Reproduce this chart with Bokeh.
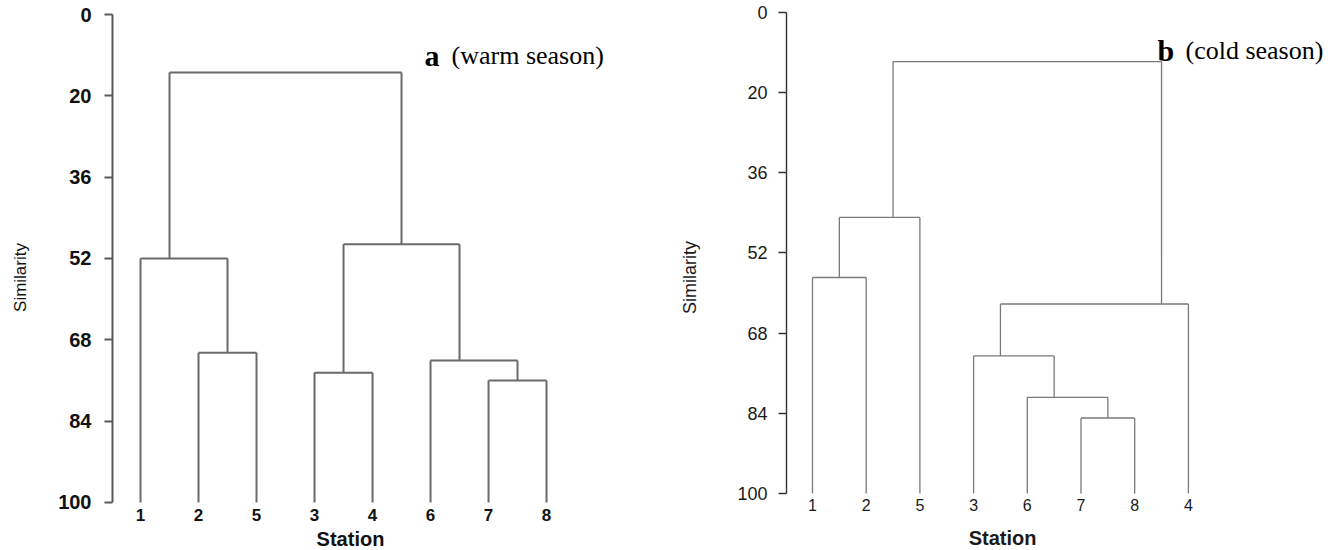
import numpy as np
from bokeh.plotting import figure
from bokeh.models import Range1d, FixedTicker, Label, ColumnDataSource
from bokeh.layouts import row
from bokeh.core.properties import value
from bokeh.embed import file_html
from bokeh.resources import INLINE

# Axis: evenly spaced tick positions carrying the printed similarity labels
tick_positions = [0, 100 / 6, 200 / 6, 50, 400 / 6, 500 / 6, 100]
tick_labels = ["0", "20", "36", "52", "68", "84", "100"]

# (a) warm season: leaf order and merges (negative = station, positive = earlier merge)
warm_order = ["1", "2", "5", "3", "4", "6", "7", "8"]
warm_left = [-2, -1, -3, -7, -6, 3, 2]
warm_right = [-5, 1, -4, -8, 4, 5, 6]
warm_height = [69.3, 50.0, 73.4, 75.0, 70.9, 47.1, 11.9]

# (b) cold season
cold_order = ["1", "2", "5", "3", "6", "7", "8", "4"]
cold_left = [-1, 1, -7, -6, -3, 5, 2]
cold_right = [-2, -5, -8, 3, 4, -4, 6]
cold_height = [55.1, 42.6, 84.3, 80.0, 71.4, 60.6, 10.2]

LEAF_LEVEL = 100.0


def dendro_segments(order, left, right, height):
    pos = {int(s): i + 1 for i, s in enumerate(order)}
    node_x, node_y, node_max = {}, {}, {}

    def info(c):
        if c < 0:
            return pos[-c], LEAF_LEVEL, pos[-c]
        return node_x[c], node_y[c], node_max[c]

    x0, y0, x1, y1 = [], [], [], []
    for k, (a, b, h) in enumerate(zip(left, right, height), start=1):
        ax, ay, amax = info(a)
        bx, by, bmax = info(b)
        x0 += [ax, bx, ax]
        y0 += [ay, by, h]
        x1 += [ax, bx, bx]
        y1 += [h, h, h]
        node_x[k] = amax + 0.5
        node_y[k] = h
        node_max[k] = max(amax, bmax)
    return ColumnDataSource(dict(x0=x0, y0=y0, x1=x1, y1=y1))


def make_panel(order, left, right, height, width, borders, xr, yr, style):
    L, R, T, B = borders
    p = figure(width=width, height=550, output_backend="svg", toolbar_location=None,
               x_range=Range1d(*xr), y_range=Range1d(*yr), x_axis_location=None,
               min_border_left=L, min_border_right=R, min_border_top=T, min_border_bottom=B)
    p.outline_line_color = None
    p.xgrid.visible = False
    p.ygrid.visible = False
    p.background_fill_color = "white"
    p.border_fill_color = "white"

    src = dendro_segments(order, left, right, height)
    p.segment("x0", "y0", "x1", "y1", source=src, line_color=style["line"],
              line_width=style["lw"])

    # station labels under the leaves
    leaf_src = ColumnDataSource(dict(x=list(range(1, len(order) + 1)),
                                     y=[style["leaf_y"]] * len(order), t=order))
    p.text("x", "y", text="t", source=leaf_src, text_align="center",
           text_baseline="middle", text_font=value("Liberation Sans"),
           text_font_size=style["leaf_fs"], text_font_style=style["tick_fw"],
           text_color=style["text"])

    ya = p.yaxis[0]
    ya.ticker = FixedTicker(ticks=tick_positions)
    ya.major_label_overrides = {t: l for t, l in zip(tick_positions, tick_labels)}
    ya.bounds = (0, 100)
    ya.axis_line_color = style["axis"]
    ya.axis_line_width = style["alw"]
    ya.major_tick_line_color = style["axis"]
    ya.major_tick_line_width = style["alw"]
    ya.major_tick_in = 0
    ya.major_tick_out = 8
    ya.minor_tick_line_color = None
    ya.major_label_standoff = style["tick_so"]
    ya.major_label_text_font = "Liberation Sans"
    ya.major_label_text_font_size = style["tick_fs"]
    ya.major_label_text_font_style = style["tick_fw"]
    ya.major_label_text_color = style["text"]
    ya.axis_label = "Similarity"
    ya.axis_label_standoff = style["lab_so"]
    ya.axis_label_text_font = "Liberation Sans"
    ya.axis_label_text_font_size = style["lab_fs"]
    ya.axis_label_text_font_style = "normal"
    ya.axis_label_text_color = style["text"]

    p.add_layout(Label(x=style["st_x"], y=style["st_y"], text="Station", text_align="center",
                       text_baseline="middle", text_font="Liberation Sans",
                       text_font_size="20px", text_font_style="bold", text_color=style["text"]))
    return p


left_style = dict(line="#6a6a6a", lw=2.0, axis="#5a5a5a", alw=2.0, tick_fs="20px",
                  tick_so=13, leaf_fs="17px", tick_fw="bold", text="#111111", leaf_y=102.66,
                  lab_so=25, lab_fs="17px", st_x=4.62, st_y=107.5)
right_style = dict(line="#7a7a7a", lw=1.3, axis="#333333", alw=1.4, tick_fs="18px",
                   tick_so=11, leaf_fs="16px", tick_fw="normal", text="#1a1a1a", leaf_y=102.29,
                   lab_so=34, lab_fs="18px", st_x=4.54, st_y=109.25)

p1 = make_panel(warm_order, warm_left, warm_right, warm_height, 668,
                (112, 28, 4, 0), (0.517, 9.62), (109.84, -2.05), left_style)
p2 = make_panel(cold_order, cold_left, cold_right, cold_height, 670,
                (118, 2, 4, 0), (0.516, 10.758), (111.85, -1.66), right_style)

# panel titles
p1.add_layout(Label(x=5.897, y=8.4, text="a", text_align="left", text_baseline="alphabetic",
                    text_font="Liberation Serif", text_font_size="30px",
                    text_font_style="bold", text_color="black"))
p1.add_layout(Label(x=6.362, y=8.4, text="(warm season)", text_align="left",
                    text_baseline="alphabetic", text_font="Liberation Serif",
                    text_font_size="26px", text_color="black"))
p2.add_layout(Label(x=7.425, y=7.9, text="b", text_align="left", text_baseline="alphabetic",
                    text_font="Liberation Serif", text_font_size="30px",
                    text_font_style="bold", text_color="black"))
p2.add_layout(Label(x=7.946, y=7.9, text="(cold season)", text_align="left",
                    text_baseline="alphabetic", text_font="Liberation Serif",
                    text_font_size="26px", text_color="black"))

layout = row(p1, p2)
open("out.html", "w").write(file_html(layout, INLINE))
